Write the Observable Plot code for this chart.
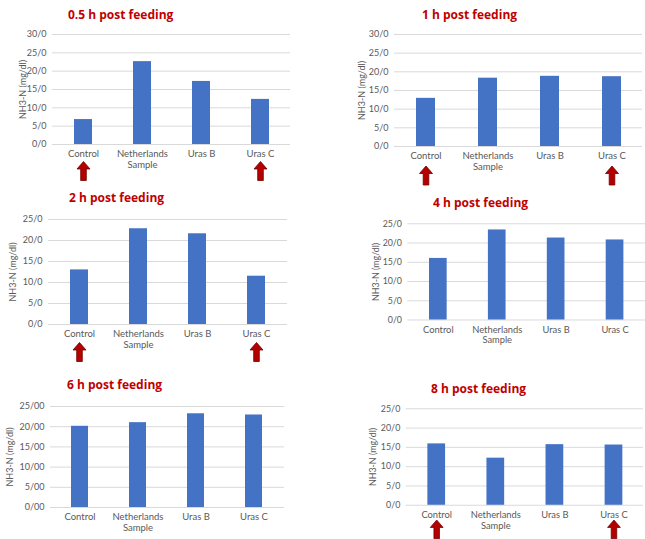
<!DOCTYPE html>
<html>
<head>
<meta charset="utf-8">
<script src="https://cdn.jsdelivr.net/npm/d3@7"></script>
<script src="https://cdn.jsdelivr.net/npm/@observablehq/plot@0.6"></script>
<style>
  html, body { margin: 0; padding: 0; background: #fff; }
  #root { position: relative; width: 645px; height: 539px; overflow: hidden; background: #fff; }
  .panel { position: absolute; }
  .title { position: absolute; font-family: "Open Sans", sans-serif; font-weight: 700; font-size: 12px; color: #c00000; white-space: nowrap; line-height: 18px; }
</style>
</head>
<body>
<div id="root"></div>
<script>
// ---- data ----
const categories = ["Control", "Netherlands\nSample", "Uras B", "Uras C"];
const titles = ["0.5 h post feeding", "1 h post feeding", "2 h post feeding", "4 h post feeding", "6 h post feeding", "8 h post feeding"];
const values05 = [6.8, 22.6, 17.2, 12.3];
const values1 = [12.9, 18.3, 18.8, 18.7];
const values2 = [13.0, 22.8, 21.6, 11.5];
const values4 = [16.0, 23.4, 21.3, 20.8];
const values6 = [20.1, 21.0, 23.2, 22.9];
const values8 = [15.9, 12.2, 15.7, 15.6];
const ticks30 = [0, 5, 10, 15, 20, 25, 30];
const ticks25 = [0, 5, 10, 15, 20, 25];
const tickLabels30 = ["0/0", "5/0", "10/0", "15/0", "20/0", "25/0", "30/0"];
const tickLabels25 = ["0/0", "5/0", "10/0", "15/0", "20/0", "25/0"];
const tickLabels25b = ["0/00", "5/00", "10/00", "15/00", "20/00", "25/00"];
const arrowedA = ["Control", "Uras C"];
const arrowedNone = [];
const yLabel = "NH3-N (mg/dl)";

// ---- layout ----
const panels = [
  {values: values05, ticks: ticks30, labels: tickLabels30, max: 30, arrows: arrowedA, left: 0, top: 0, width: 320, height: 185, mL: 52, mR: 30, mT: 34, mB: 41, lo: 29, ady: 26.5, tx: 68, ty: 6},
  {values: values1, ticks: ticks30, labels: tickLabels30, max: 30, arrows: arrowedA, left: 320, top: 0, width: 325, height: 190, mL: 74, mR: 3, mT: 34, mB: 44, lo: 32, ady: 29, tx: 422, ty: 6},
  {values: values2, ticks: ticks25, labels: tickLabels25, max: 25, arrows: arrowedA, left: 0, top: 185, width: 320, height: 175, mL: 48, mR: 33, mT: 34, mB: 36, lo: 35, ady: 27.5, tx: 69, ty: 189},
  {values: values4, ticks: ticks25, labels: tickLabels25, max: 25, arrows: arrowedNone, left: 320, top: 185, width: 331, height: 175, mL: 89, mR: 0, mT: 39, mB: 38, lo: 32, ady: 0, tx: 433, ty: 194},
  {values: values6, ticks: ticks25, labels: tickLabels25b, max: 25, arrows: arrowedNone, left: 0, top: 360, width: 320, height: 179, mL: 50, mR: 36, mT: 46, mB: 32, lo: 40, ady: 0, tx: 67, ty: 376},
  {values: values8, ticks: ticks25, labels: tickLabels25, max: 25, arrows: arrowedA, left: 320, top: 360, width: 330, height: 179, mL: 87, mR: 2, mT: 49, mB: 32, lo: 34, ady: 24.5, tx: 431, ty: 380}
];

const arrowSymbol = {
  draw(ctx) {
    ctx.moveTo(0, -9.5);
    ctx.lineTo(6.5, -2);
    ctx.lineTo(2.8, -2);
    ctx.lineTo(2.8, 9.5);
    ctx.lineTo(-2.8, 9.5);
    ctx.lineTo(-2.8, -2);
    ctx.lineTo(-6.5, -2);
    ctx.closePath();
  }
};

const root = document.getElementById("root");

panels.forEach((p, k) => {
  const data = categories.map((c, i) => ({category: c, value: p.values[i]}));
  const arrowData = p.arrows.map(a => a);
  const chart = Plot.plot({
    width: p.width,
    height: p.height,
    marginLeft: p.mL,
    marginRight: p.mR,
    marginTop: p.mT,
    marginBottom: p.mB,
    style: {fontFamily: "Lato, sans-serif", color: "#595959", background: "transparent", overflow: "visible"},
    x: {domain: categories, paddingInner: 0.7, paddingOuter: 0.35, label: null},
    y: {domain: [0, p.max], label: null},
    marks: [
      Plot.gridY(p.ticks, {stroke: "#d9d9d9", strokeOpacity: 1, strokeWidth: 1}),
      Plot.barY(data, {x: "category", y: "value", fill: "#4472c4"}),
      Plot.axisY({ticks: p.ticks, tickSize: 0, tickPadding: 6, fontSize: 9, tickFormat: d => p.labels[p.ticks.indexOf(d)], label: null}),
      Plot.text([yLabel], {text: d => d, frameAnchor: "left", rotate: -90, dx: -p.lo, fontSize: 9, fill: "#595959", textAnchor: "middle", lineAnchor: "middle"}),
      Plot.axisX({tickSize: 0, tickPadding: 5, fontSize: 9.5, lineHeight: 1.15, label: null}),
      Plot.dot(arrowData, {x: d => d, y: () => 0, dy: p.ady, symbol: arrowSymbol, r: 5, fill: "#b50000", stroke: "#6e0000", strokeWidth: 0.8})
    ]
  });
  const wrap = document.createElement("div");
  wrap.className = "panel";
  wrap.style.left = p.left + "px";
  wrap.style.top = p.top + "px";
  wrap.appendChild(chart);
  root.appendChild(wrap);

  const t = document.createElement("div");
  t.className = "title";
  t.textContent = titles[k];
  t.style.left = p.tx + "px";
  t.style.top = p.ty + "px";
  root.appendChild(t);
});
</script>
</body>
</html>
